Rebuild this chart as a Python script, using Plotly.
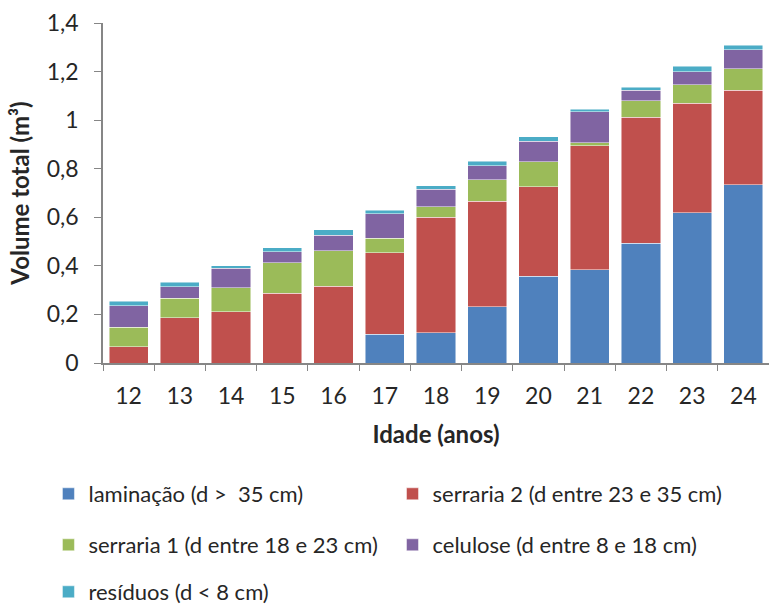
import plotly.graph_objects as go

# Volume by log assortment per age (m³)
idade = ["12", "13", "14", "15", "16", "17", "18", "19", "20", "21", "22", "23", "24"]
laminacao = [0, 0, 0, 0, 0, 0.118, 0.125, 0.231, 0.358, 0.383, 0.494, 0.618, 0.734]
serraria2 = [0.066, 0.187, 0.211, 0.288, 0.317, 0.336, 0.476, 0.436, 0.367, 0.512, 0.518, 0.451, 0.390]
serraria1 = [0.081, 0.079, 0.099, 0.124, 0.145, 0.059, 0.043, 0.087, 0.104, 0.011, 0.067, 0.076, 0.087]
celulose = [0.089, 0.047, 0.080, 0.046, 0.065, 0.102, 0.072, 0.058, 0.084, 0.128, 0.045, 0.055, 0.079]
residuos = [0.019, 0.019, 0.011, 0.016, 0.022, 0.015, 0.013, 0.018, 0.018, 0.011, 0.011, 0.022, 0.019]

names = [
    "laminação (d > \u00a035 cm)",
    "serraria 2 (d entre 23 e 35 cm)",
    "serraria 1 (d entre 18 e 23 cm)",
    "celulose (d entre 8 e 18 cm)",
    "resíduos (d < 8 cm)",
]
values = [laminacao, serraria2, serraria1, celulose, residuos]
colors = ["#4F81BD", "#C0504D", "#9BBB59", "#8064A2", "#4BACC6"]

# one legend per entry, laid out as a two-column grid under the plot
legend_ids = ["legend", "legend2", "legend3", "legend4", "legend5"]
legend_x = [0.063, 0.5104, 0.063, 0.5104, 0.063]
legend_y = [1 - 494 / 605, 1 - 494 / 605, 1 - 545 / 605, 1 - 545 / 605, 1 - 592 / 605]

FONT = "Lato"
TXT = "#262626"

fig = go.Figure()
for name, vals, color, leg in zip(names, values, colors, legend_ids):
    fig.add_trace(go.Bar(
        x=idade, y=vals, name=name, legend=leg, showlegend=True,
        marker=dict(color=color, line=dict(color="rgba(255,255,255,0.6)", width=0.8)),
    ))

legends = {}
for leg, lx, ly in zip(legend_ids, legend_x, legend_y):
    legends[leg] = dict(
        orientation="h", xref="container", yref="container",
        x=lx, y=ly, xanchor="left", yanchor="middle",
        font=dict(family=FONT, size=22, color=TXT),
        bgcolor="rgba(0,0,0,0)",
    )

fig.update_layout(
    barmode="stack",
    bargap=0.235,
    width=769, height=605,
    margin=dict(l=103, r=0, t=23, b=242),
    plot_bgcolor="white", paper_bgcolor="white",
    separators=", ",
    showlegend=True,
    font=dict(family=FONT, color=TXT),
    **legends,
    xaxis=dict(
        title=dict(text="<b>Idade (anos)</b>", font=dict(family=FONT, size=24, color=TXT), standoff=18),
        tickson="boundaries", ticks="outside", ticklen=6, tickcolor="#868686",
        showline=True, linecolor="#868686", linewidth=1.5,
        tickfont=dict(family=FONT, size=23, color=TXT),
        ticklabelstandoff=12, showgrid=False,
    ),
    yaxis=dict(
        title=dict(text="<b>Volume total (m³)</b>", font=dict(family=FONT, size=24, color=TXT), standoff=10),
        range=[0, 1.4], dtick=0.2, ticks="outside", ticklen=7, tickcolor="#868686",
        showline=True, linecolor="#868686", linewidth=1.5,
        tickfont=dict(family=FONT, size=23, color=TXT),
        ticklabelstandoff=11, showgrid=False, zeroline=False,
    ),
)

fig.write_html("out.html")
